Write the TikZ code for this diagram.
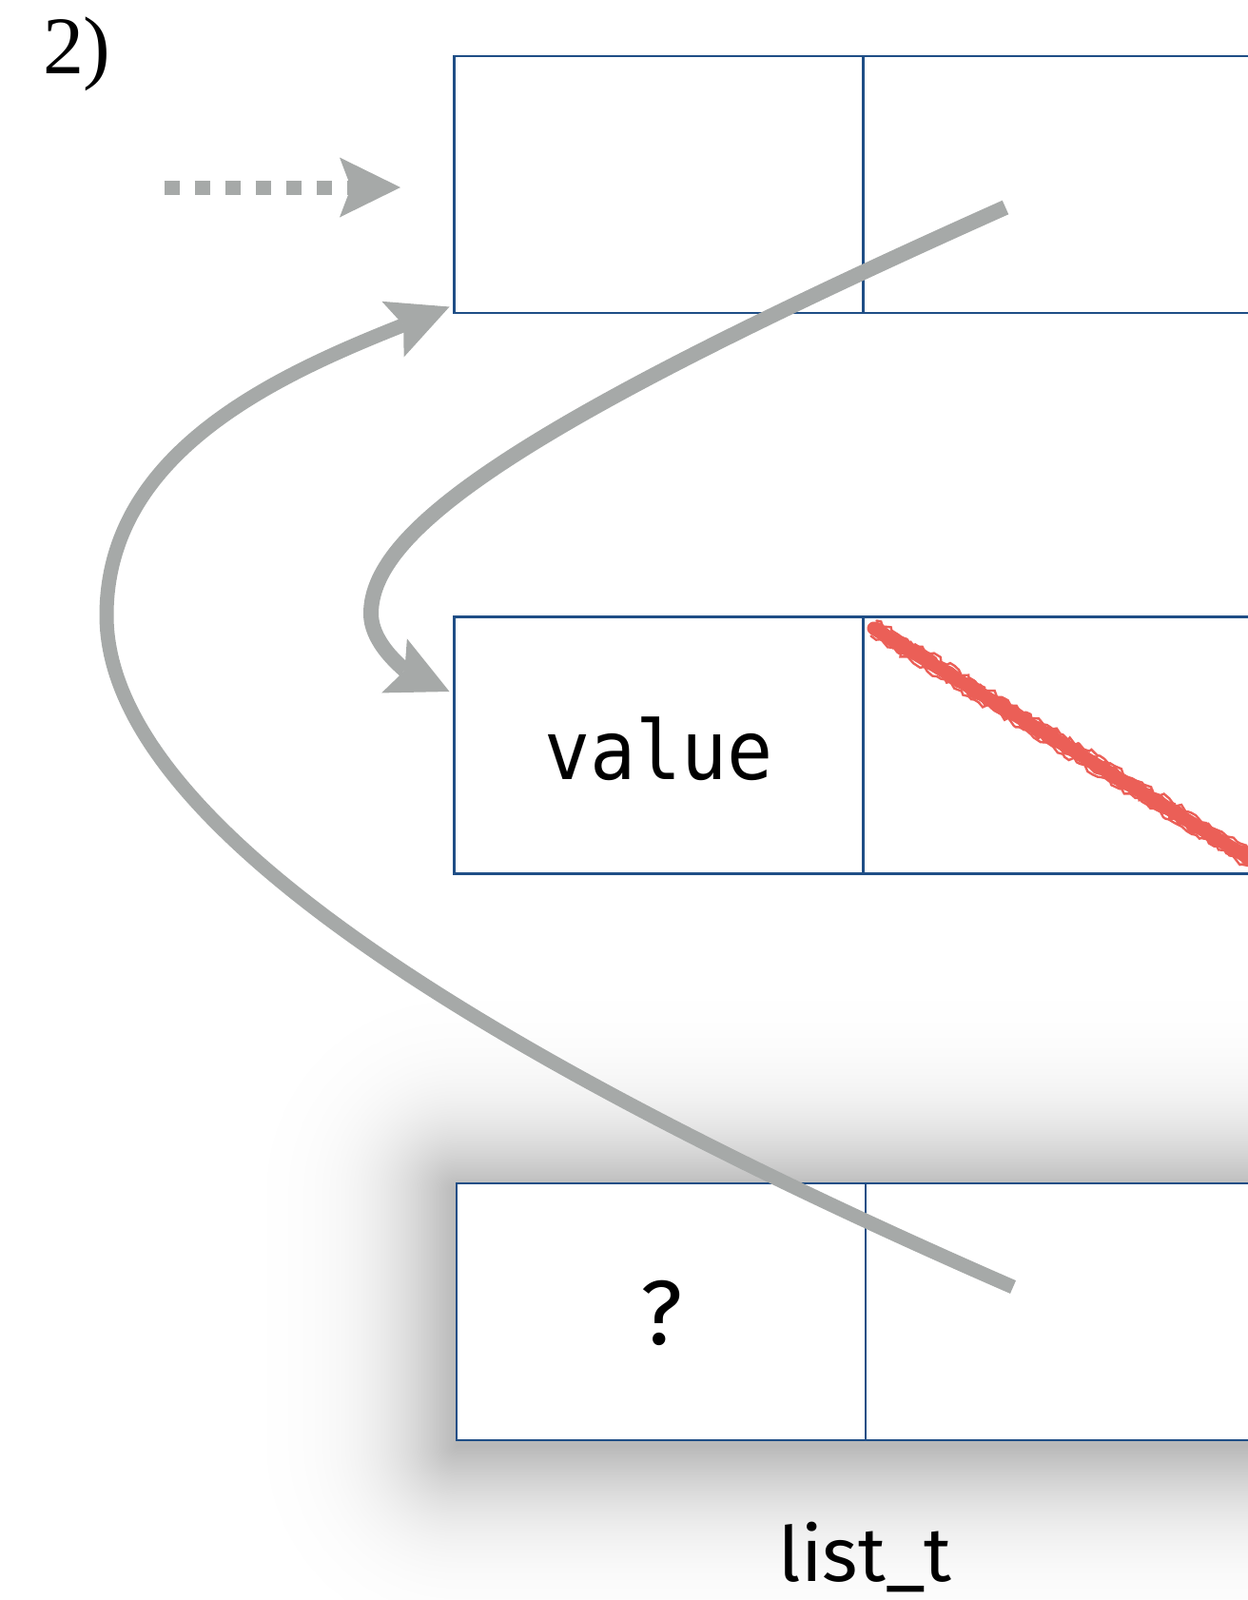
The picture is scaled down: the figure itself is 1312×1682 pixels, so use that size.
\documentclass[tikz,border=0pt]{standalone}
\usepackage{fontspec}
\newfontfamily\lblfont{Fira Sans}
\newfontfamily\codefont[FakeStretch=0.93]{DejaVu Sans Mono}
\newfontfamily\numfont{Liberation Serif}
\usetikzlibrary{arrows.meta,calc,decorations.pathmorphing}
\definecolor{boxblue}{RGB}{31,78,134}
\definecolor{arrowgray}{RGB}{166,169,168}
\definecolor{chalkred}{RGB}{235,95,87}
\tikzset{
  cell/.style={draw=boxblue, line width=1.25pt, fill=white, minimum width=215pt,
    minimum height=135pt, inner sep=0pt, outer sep=0pt},
  garrow/.style={draw=arrowgray, line width=7pt,
    -{Stealth[length=32pt,width=31.5pt,inset=6pt,line width=0pt]}},
  chalk/.style={draw=chalkred, line cap=round},
  rough/.style={chalk, line width=1.6pt, decorate,
    decoration={random steps, segment length=2.5pt, amplitude=1.3pt}},
  txt/.style={anchor=base, inner sep=0pt, outer sep=0pt}
}
\begin{document}
\begin{tikzpicture}[x=0.5pt,y=-0.5pt]
\useasboundingbox (0,0) rectangle (1312,1682);
\clip (0,0) rectangle (1312,1682);

% soft shadow of the third struct (erfc-like falloff built from layers)
\coordinate (s3nw) at (480.5,1252);
\coordinate (s3se) at (1340.5,1520);
\foreach \i in {1,...,70}{
  \pgfmathsetmacro\LL{ln(70/(\i-0.5))}
  \pgfmathsetmacro\dd{min(200,105*(-1.098+sqrt(1.2056+2.8*\LL))/1.4)}
  \pgfmathsetmacro\rc{\dd*0.5}
  \fill[black, opacity=0.004, rounded corners=\rc pt]
    ($(s3nw)+(-\dd,-\dd)$) rectangle ($(s3se)+(\dd,\dd)$);
}

% boxes
\node[cell] (n1v) at (692.5,194) {};
\node[cell] (n1p) at (1122.5,194) {};
\node[cell] (n2v) at (692.5,783.5) {};
\node[cell] (n2p) at (1122.5,783.5) {};
\node[cell, line width=1.1pt] (n3v) at (695,1379) {};
\node[cell, line width=1.1pt] (n3p) at (1125,1379) {};

% crossed-out pointer
\coordinate (r1) at ($(n2p.north west)+(11,12)$);
\coordinate (r2) at ($(n2p.south east)+(-1,-2)$);
\draw[chalk, line width=7pt] (r1) -- (r2);
\draw[rough] ($(r1)+(2,-5.5)$) -- ($(r2)+(2,-5.5)$);
\draw[rough] ($(r1)+(-2,5.5)$) -- ($(r2)+(-2,5.5)$);
\draw[rough, line width=1.2pt] ($(r1)+(3,-8)$) -- ($(r2)+(3,-8)$);
\draw[rough, line width=1.2pt] ($(r1)+(-3,8)$) -- ($(r2)+(-3,8)$);

% texts
\node[txt] (tval) at (692.5,819) {\codefont\fontsize{43pt}{50pt}\selectfont value};
\node[txt] (tq) at (696,1413) {\lblfont\fontsize{48pt}{54pt}\selectfont ?};
\node[txt] (tlist) at (909.5,1662) {\lblfont\fontsize{40pt}{48pt}\selectfont list\_t};
\node[txt, anchor=base west] (tnum) at (45,77) {\numfont\fontsize{43pt}{50pt}\selectfont 2)};

% dotted incoming arrow
\coordinate (dS) at ($(n1v.west)+(-305,3)$);
\coordinate (dE) at ($(n1v.west)+(-56.5,3)$);
\draw[garrow, line width=7.5pt, dash pattern=on 8pt off 8pt] (dS) -- (dE);

% curve A: from third struct's pointer to the first struct
\coordinate (aS) at ($(n3p.center)+(-60,-26)$);
\coordinate (aE) at ($(n1v.south west)+(-5,-6.5)$);
\draw[garrow, line width=7.5pt] (aS) .. controls (515,1113) and (112,867) .. (112,647)
  .. controls (112,477) and (286.5,396.3) .. (aE);

% curve B: from first struct's pointer to the second struct
\coordinate (bS) at ($(n1p.center)+(-65.5,24)$);
\coordinate (bE) at ($(n2v.west)+(-5,-56.5)$);
\draw[garrow, line width=8pt] (bS) .. controls (554.9,442.4) and (390,555) .. (390,645)
  .. controls (390,680) and (431.7,707.9) .. (bE);
\end{tikzpicture}
\end{document}
